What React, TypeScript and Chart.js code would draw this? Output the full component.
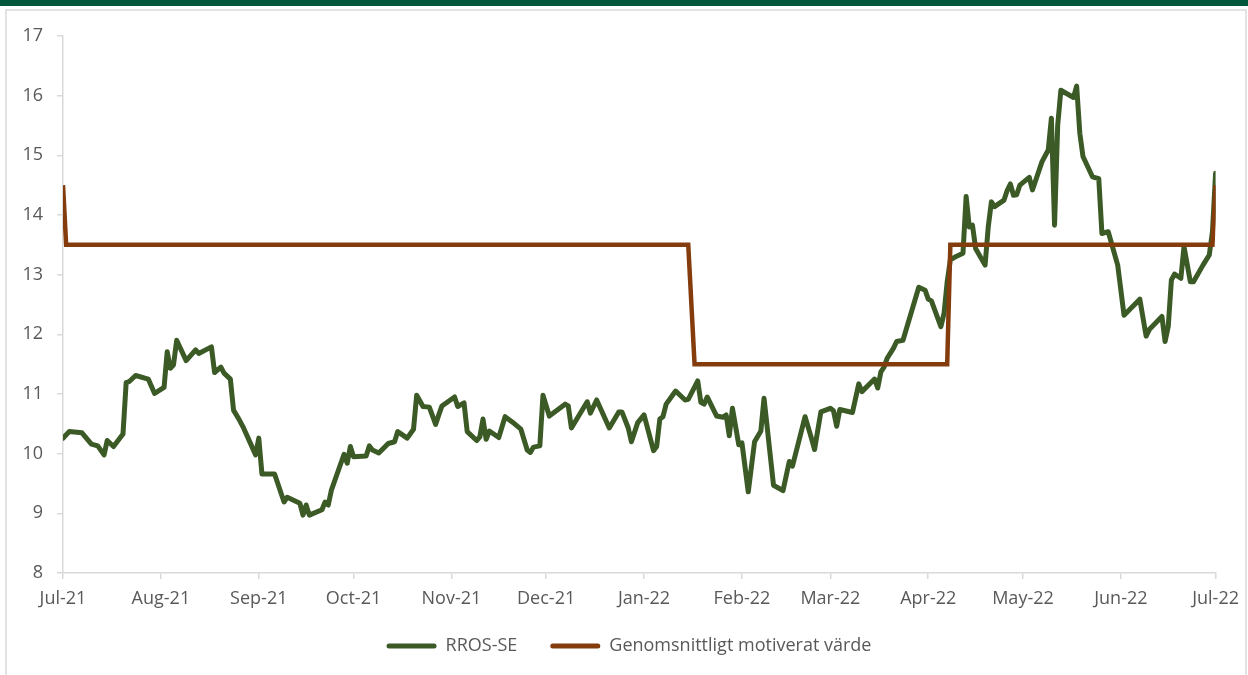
import React, { useEffect, useRef } from 'react';
import { Chart, registerables } from 'chart.js';

Chart.register(...registerables);

// ---- data ----
const monthLabels = ['Jul-21', 'Aug-21', 'Sep-21', 'Oct-21', 'Nov-21', 'Dec-21', 'Jan-22', 'Feb-22', 'Mar-22', 'Apr-22', 'May-22', 'Jun-22', 'Jul-22'];
const monthStarts = ['2021-07-01', '2021-08-01', '2021-09-01', '2021-10-01', '2021-11-01', '2021-12-01', '2022-01-01', '2022-02-01', '2022-03-01', '2022-04-01', '2022-05-01', '2022-06-01', '2022-07-01'];

const priceDates = [
  '2021-07-01', '2021-07-03', '2021-07-07', '2021-07-10', '2021-07-12', '2021-07-14', '2021-07-15', '2021-07-17', '2021-07-20', '2021-07-21',
  '2021-07-22', '2021-07-24', '2021-07-28', '2021-07-30', '2021-08-02', '2021-08-03', '2021-08-04', '2021-08-05', '2021-08-06', '2021-08-09',
  '2021-08-12', '2021-08-13', '2021-08-17', '2021-08-18', '2021-08-20', '2021-08-21', '2021-08-23', '2021-08-24', '2021-08-26', '2021-08-27',
  '2021-08-31', '2021-09-01', '2021-09-02', '2021-09-06', '2021-09-09', '2021-09-10', '2021-09-14', '2021-09-15', '2021-09-16', '2021-09-17',
  '2021-09-21', '2021-09-22', '2021-09-23', '2021-09-24', '2021-09-28', '2021-09-29', '2021-09-30', '2021-10-01', '2021-10-05', '2021-10-06',
  '2021-10-07', '2021-10-09', '2021-10-12', '2021-10-14', '2021-10-15', '2021-10-18', '2021-10-20', '2021-10-21', '2021-10-23', '2021-10-25',
  '2021-10-27', '2021-10-28', '2021-10-29', '2021-11-02', '2021-11-03', '2021-11-05', '2021-11-06', '2021-11-09', '2021-11-10', '2021-11-11',
  '2021-11-12', '2021-11-13', '2021-11-16', '2021-11-18', '2021-11-21', '2021-11-23', '2021-11-25', '2021-11-26', '2021-11-27', '2021-11-29',
  '2021-11-30', '2021-12-02', '2021-12-07', '2021-12-08', '2021-12-09', '2021-12-14', '2021-12-15', '2021-12-17', '2021-12-21', '2021-12-24',
  '2021-12-25', '2021-12-27', '2021-12-28', '2021-12-30', '2022-01-01', '2022-01-04', '2022-01-05', '2022-01-06', '2022-01-07', '2022-01-08',
  '2022-01-11', '2022-01-14', '2022-01-15', '2022-01-18', '2022-01-19', '2022-01-20', '2022-01-21', '2022-01-24', '2022-01-26', '2022-01-27',
  '2022-01-28', '2022-01-29', '2022-01-31', '2022-02-01', '2022-02-03', '2022-02-05', '2022-02-07', '2022-02-08', '2022-02-11', '2022-02-14',
  '2022-02-16', '2022-02-17', '2022-02-21', '2022-02-23', '2022-02-24', '2022-02-26', '2022-03-01', '2022-03-02', '2022-03-03', '2022-03-04',
  '2022-03-08', '2022-03-10', '2022-03-11', '2022-03-15', '2022-03-16', '2022-03-17', '2022-03-18', '2022-03-19', '2022-03-21', '2022-03-22',
  '2022-03-24', '2022-03-29', '2022-03-31', '2022-04-01', '2022-04-02', '2022-04-05', '2022-04-06', '2022-04-07', '2022-04-08', '2022-04-10',
  '2022-04-12', '2022-04-13', '2022-04-14', '2022-04-15', '2022-04-16', '2022-04-19', '2022-04-20', '2022-04-21', '2022-04-22', '2022-04-25',
  '2022-04-26', '2022-04-27', '2022-04-28', '2022-04-29', '2022-04-30', '2022-05-03', '2022-05-04', '2022-05-07', '2022-05-09', '2022-05-10',
  '2022-05-11', '2022-05-12', '2022-05-13', '2022-05-17', '2022-05-18', '2022-05-19', '2022-05-20', '2022-05-23', '2022-05-25', '2022-05-26',
  '2022-05-28', '2022-05-31', '2022-06-02', '2022-06-07', '2022-06-09', '2022-06-10', '2022-06-14', '2022-06-15', '2022-06-16', '2022-06-17',
  '2022-06-18', '2022-06-20', '2022-06-21', '2022-06-23', '2022-06-24', '2022-06-27', '2022-06-29', '2022-06-30', '2022-07-01',
];
const priceValues = [
  10.26, 10.37, 10.35, 10.16, 10.13, 9.98, 10.22, 10.12, 10.33, 11.19,
  11.21, 11.31, 11.25, 11.01, 11.11, 11.71, 11.43, 11.49, 11.90, 11.56,
  11.74, 11.68, 11.79, 11.36, 11.45, 11.35, 11.25, 10.73, 10.55, 10.45,
  9.98, 10.26, 9.66, 9.66, 9.19, 9.27, 9.17, 8.97, 9.14, 8.97,
  9.06, 9.19, 9.14, 9.39, 9.99, 9.84, 10.12, 9.95, 9.96, 10.13,
  10.06, 10.01, 10.17, 10.20, 10.37, 10.26, 10.41, 10.98, 10.79, 10.78,
  10.49, 10.65, 10.80, 10.95, 10.79, 10.85, 10.37, 10.22, 10.28, 10.58,
  10.24, 10.38, 10.27, 10.62, 10.50, 10.41, 10.06, 10.02, 10.11, 10.13,
  10.98, 10.63, 10.83, 10.80, 10.43, 10.87, 10.68, 10.90, 10.43, 10.70,
  10.70, 10.43, 10.20, 10.52, 10.65, 10.05, 10.12, 10.58, 10.62, 10.83,
  11.05, 10.90, 10.91, 11.22, 10.86, 10.83, 10.95, 10.63, 10.61, 10.65,
  10.30, 10.76, 10.15, 10.18, 9.36, 10.20, 10.38, 10.93, 9.47, 9.38,
  9.87, 9.79, 10.62, 10.26, 10.07, 10.70, 10.76, 10.72, 10.46, 10.74,
  10.69, 11.17, 11.04, 11.25, 11.10, 11.37, 11.45, 11.60, 11.77, 11.88,
  11.90, 12.79, 12.74, 12.59, 12.56, 12.13, 12.35, 12.88, 13.25, 13.31,
  13.36, 14.31, 13.80, 13.83, 13.44, 13.16, 13.80, 14.22, 14.14, 14.25,
  14.41, 14.52, 14.33, 14.34, 14.50, 14.63, 14.42, 14.89, 15.09, 15.62,
  13.83, 15.51, 16.09, 15.97, 16.16, 15.37, 14.98, 14.64, 14.61, 13.69,
  13.72, 13.16, 12.32, 12.59, 11.97, 12.08, 12.30, 11.88, 12.13, 12.91,
  13.01, 12.94, 13.47, 12.88, 12.88, 13.16, 13.33, 13.72, 14.70,
];

const fairDates = ['2021-07-01', '2021-07-02', '2022-01-15', '2022-01-17', '2022-04-07', '2022-04-08', '2022-06-30', '2022-07-01'];
const fairValues = [14.5, 13.5, 13.5, 11.5, 11.5, 13.5, 13.5, 14.5];

const seriesNames = ['RROS-SE', 'Genomsnittligt motiverat värde'];
const yMin = 8;
const yMax = 17;

// ---- helpers ----
const ORIGIN = Date.UTC(2021, 6, 1);
const dayOf = (s: string) => {
  const [y, m, d] = s.split('-').map(Number);
  return (Date.UTC(y, m - 1, d) - ORIGIN) / 86400000;
};
const monthDays = monthStarts.map(dayOf);

const FONT = { family: "'Open Sans', 'Noto Sans', sans-serif", size: 18 };
const TEXT = '#595959';
const AXIS = '#d9d9d9';
const GREEN = '#3B5A26';
const BROWN = '#843C0C';

const LEGEND_PAD = 24;
const X_AXIS_H = 40;
const PLOT_BOTTOM = 573;
const BOTTOM_PAD = 675 - PLOT_BOTTOM - X_AXIS_H - (18 + LEGEND_PAD + 10);

export default function App() {
  const ref = useRef<HTMLCanvasElement | null>(null);

  useEffect(() => {
    document.body.style.margin = '0';
    const canvas = ref.current;
    if (!canvas) return;
    const chart = new Chart(canvas, {
      type: 'line',
      data: {
        datasets: [
          {
            label: seriesNames[0],
            data: priceDates.map((d, i) => ({ x: dayOf(d), y: priceValues[i] })),
            borderColor: GREEN,
            backgroundColor: GREEN,
            borderWidth: 5,
            pointRadius: 0,
            tension: 0,
            borderJoinStyle: 'round',
            borderCapStyle: 'round',
            order: 1,
          },
          {
            label: seriesNames[1],
            data: fairDates.map((d, i) => ({ x: dayOf(d), y: fairValues[i] })),
            borderColor: BROWN,
            backgroundColor: BROWN,
            borderWidth: 4.5,
            pointRadius: 0,
            tension: 0,
            borderJoinStyle: 'miter',
            borderCapStyle: 'butt',
            order: 0,
          },
        ],
      },
      options: {
        animation: false,
        responsive: false,
        devicePixelRatio: 1,
        layout: { padding: { left: 10, top: 36, right: 0, bottom: BOTTOM_PAD } },
        plugins: {
          tooltip: { enabled: false },
          legend: {
            position: 'bottom',
            align: 'center',
            labels: {
              boxWidth: 50,
              boxHeight: 5,
              useBorderRadius: true,
              borderRadius: 2.5,
              padding: LEGEND_PAD,
              color: TEXT,
              font: FONT,
              sort: (a: any, b: any) => a.datasetIndex - b.datasetIndex,
              generateLabels: (c: any) =>
                Chart.defaults.plugins.legend.labels.generateLabels(c).map((l: any) => ({
                  ...l,
                  text: l.datasetIndex === 0 ? l.text + '\u2002' : l.text,
                  lineWidth: 0,
                  fillStyle: l.strokeStyle,
                })),
            },
          },
        },
        scales: {
          x: {
            type: 'linear',
            min: monthDays[0],
            max: monthDays[monthDays.length - 1],
            afterBuildTicks: (s: any) => {
              s.ticks = monthDays.map((v) => ({ value: v }));
            },
            afterFit: (s: any) => {
              s.height = X_AXIS_H;
            },
            ticks: {
              autoSkip: false,
              maxRotation: 0,
              padding: 9,
              color: TEXT,
              font: FONT,
              callback: (_v: any, i: number) => monthLabels[i],
            },
            grid: { drawOnChartArea: false, drawTicks: true, tickLength: 6, color: AXIS, lineWidth: 1.5 },
            border: { display: true, color: AXIS, width: 1.5 },
          },
          y: {
            min: yMin,
            max: yMax,
            afterFit: (s: any) => {
              s.width = 53;
            },
            ticks: { stepSize: 1, padding: 14, color: TEXT, font: FONT },
            grid: { drawOnChartArea: false, drawTicks: true, tickLength: 6, color: AXIS, lineWidth: 1.5 },
            border: { display: true, color: AXIS, width: 1.5 },
          },
          yRight: {
            position: 'right',
            display: true,
            afterFit: (s: any) => {
              s.width = 31;
            },
            ticks: { display: false },
            grid: { display: false },
            border: { display: false },
          },
        },
      },
    } as any);
    return () => chart.destroy();
  }, []);

  return (
    <div style={{ position: 'relative', width: 1248, height: 675, overflow: 'hidden', background: '#ffffff' }}>
      <div style={{ position: 'absolute', left: 0, top: 0, width: 1248, height: 6, background: '#00573C' }} />
      <div
        style={{
          position: 'absolute',
          left: 5,
          top: 9,
          width: 1242,
          height: 700,
          border: '2px solid #e3e3e3',
          boxSizing: 'border-box',
        }}
      />
      <canvas ref={ref} width={1248} height={675} style={{ position: 'absolute', left: 0, top: 0 }} />
    </div>
  );
}
